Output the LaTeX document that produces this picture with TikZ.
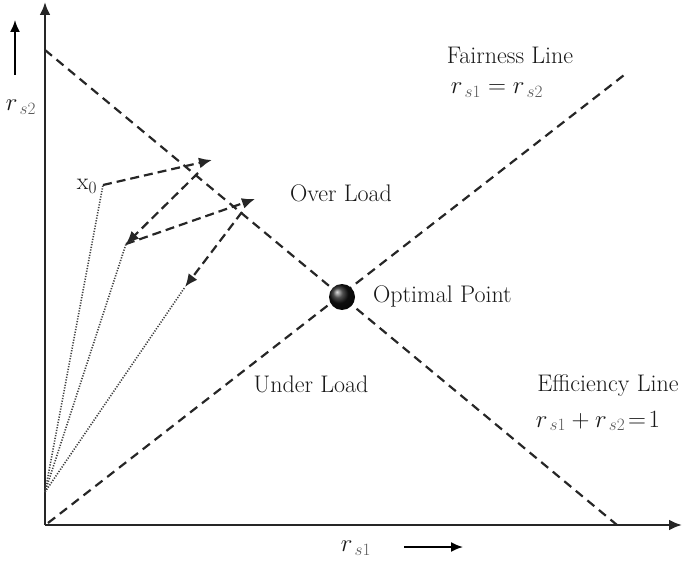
\documentclass[tikz,border=0pt]{standalone}
\usetikzlibrary{arrows.meta,shadings}
\newcommand{\rsub}[1]{r_{\,\color{black!65}#1}}
\begin{document}
\begin{tikzpicture}[x=1pt,y=-1pt,
  axis/.style={line width=2.4pt,draw=black!85,-{Latex[length=13pt,width=11pt]}},
  dline/.style={line width=2.2pt,dash pattern=on 9pt off 6pt,draw=black!85},
  darr/.style={line width=2.2pt,dash pattern=on 9pt off 5pt,draw=black!85,-{Latex[length=13pt,width=11pt]}},
  dots/.style={line width=1.6pt,dash pattern=on 1.2pt off 1.5pt,draw=black!75},
  lbl/.style={font=\fontsize{24}{28}\selectfont,text=black!90,inner sep=0pt},
  small/.style={line width=1.8pt,draw=black,-{Latex[length=12pt,width=10pt]}}]
\useasboundingbox (0,0) rectangle (685,561);
% axes
\coordinate (O) at (45,525);
\coordinate (Ytop) at (45,2);
\coordinate (Xend) at (682,525);
\draw[axis] (O) -- (Ytop);
\draw[axis] (O) -- (Xend);
% efficiency and fairness lines
\coordinate (E1) at (45,50);
\coordinate (E2) at (617,525);
\coordinate (F1) at (48,523);
\coordinate (F2) at (628,72);
\draw[dline] (E1) -- (E2);
\draw[dline] (F1) -- (F2);
% optimal point
\shade[ball color=black!92] (342,297) circle (13pt);
\node[circle,minimum size=26pt,inner sep=0pt] (opt) at (342,297) {};
% trajectory
\coordinate (S) at (45,492);
\coordinate (X0) at (103,185);
\coordinate (A1) at (212,160);
\coordinate (B1) at (198,173);
\coordinate (P2) at (126,244);
\coordinate (A2) at (255,199);
\coordinate (B2) at (242,212);
\coordinate (P3) at (185,287);
\draw[dots] (S) -- (X0);
\draw[dots] (S) -- (P2);
\draw[dots] (S) -- (P3);
\draw[darr] (X0) -- (A1);
\draw[darr] (B1) -- (P2);
\draw[darr] (P2) -- (A2);
\draw[darr] (B2) -- (P3);
% labels
\node[lbl] (x0) at (87,186) {x$_0$};
\node[lbl] (over) at (341,193) {Over Load};
\node[lbl,anchor=west] (optl) at (373,296) {Optimal Point};
\node[lbl] (under) at (311,384) {Under Load};
\node[lbl] (fair) at (510,55) {Fairness Line};
\node[lbl] (faireq) at (497,90) {$\rsub{s1} = \rsub{s2}$};
\node[lbl] (eff) at (608,386) {Efficiency Line};
\node[lbl] (effeq) at (598,421) {$\rsub{s1} + \rsub{s2}\!=\!1$};
\node[lbl] (rs2) at (21,107) {$\rsub{s2}$};
\node[lbl] (rs1) at (356,548) {$\rsub{s1}$};
\coordinate (ya) at (15,75);
\coordinate (yb) at (15,20);
\draw[small] (ya) -- (yb);
\coordinate (xa) at (404,547);
\coordinate (xb) at (463,547);
\draw[small] (xa) -- (xb);
\end{tikzpicture}
\end{document}
